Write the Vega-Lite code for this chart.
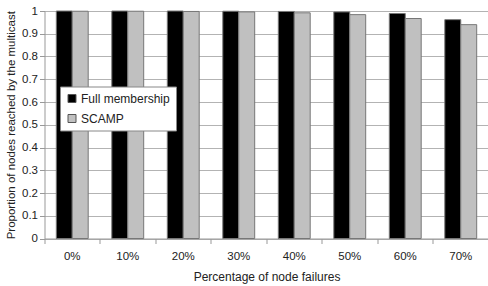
{
  "$schema": "https://vega.github.io/schema/vega-lite/v6.json",
  "autosize": {"type": "none"},
  "width": 444,
  "height": 227.5,
  "padding": {"left": 44.5, "top": 11, "right": 0, "bottom": 47.5},
  "background": "white",
  "config": {
    "font": "Liberation Sans",
    "view": {"stroke": null},
    "axis": {"labelFont": "Liberation Sans", "titleFont": "Liberation Sans", "labelColor": "#222", "titleColor": "#222", "titleFontWeight": "normal", "domainColor": "#999", "tickColor": "#999"}
  },
  "data": {"values": [
    {"failures": "0%", "protocol": "Full membership", "value": 1.0},
    {"failures": "0%", "protocol": "SCAMP", "value": 0.999},
    {"failures": "10%", "protocol": "Full membership", "value": 1.0},
    {"failures": "10%", "protocol": "SCAMP", "value": 0.999},
    {"failures": "20%", "protocol": "Full membership", "value": 1.0},
    {"failures": "20%", "protocol": "SCAMP", "value": 0.998},
    {"failures": "30%", "protocol": "Full membership", "value": 0.999},
    {"failures": "30%", "protocol": "SCAMP", "value": 0.996},
    {"failures": "40%", "protocol": "Full membership", "value": 0.998},
    {"failures": "40%", "protocol": "SCAMP", "value": 0.992},
    {"failures": "50%", "protocol": "Full membership", "value": 0.996},
    {"failures": "50%", "protocol": "SCAMP", "value": 0.984},
    {"failures": "60%", "protocol": "Full membership", "value": 0.989},
    {"failures": "60%", "protocol": "SCAMP", "value": 0.967},
    {"failures": "70%", "protocol": "Full membership", "value": 0.962},
    {"failures": "70%", "protocol": "SCAMP", "value": 0.940}
  ]},
  "mark": {"type": "bar", "stroke": "#777", "strokeWidth": 1},
  "encoding": {
    "x": {
      "field": "failures", "type": "nominal", "sort": null,
      "scale": {"paddingInner": 0, "paddingOuter": 0},
      "axis": {"title": "Percentage of node failures", "titleFontSize": 12, "titlePadding": 9, "labelFontSize": 11.5, "labelAngle": 0, "bandPosition": 0, "tickSize": 5, "labelPadding": 7, "grid": false}
    },
    "xOffset": {
      "field": "protocol", "type": "nominal",
      "scale": {"domain": ["Full membership", "SCAMP"], "paddingInner": 0, "paddingOuter": 0.74}
    },
    "y": {
      "field": "value", "type": "quantitative",
      "scale": {"domain": [0, 1], "nice": false},
      "axis": {"title": "Proportion of nodes reached by the multicast", "titleFontSize": 11.5, "titlePadding": 5, "labelFontSize": 11.5, "format": "~g", "values": [0, 0.1, 0.2, 0.3, 0.4, 0.5, 0.6, 0.7, 0.8, 0.9, 1], "tickSize": 5, "labelPadding": 2, "grid": true, "gridColor": "#b3b3b3", "gridWidth": 1}
    },
    "color": {
      "field": "protocol", "type": "nominal",
      "scale": {"domain": ["Full membership", "SCAMP"], "range": ["#000000", "#c0c0c0"]},
      "legend": {"title": null, "orient": "none", "legendX": 15.5, "legendY": 75.5, "fillColor": "white", "strokeColor": "#888", "padding": 6, "rowPadding": 8, "symbolType": "square", "symbolSize": 64, "symbolStrokeColor": "#555", "symbolStrokeWidth": 1, "labelFontSize": 12, "labelColor": "#222", "labelFont": "Liberation Sans", "labelOffset": 3}
    }
  }
}
